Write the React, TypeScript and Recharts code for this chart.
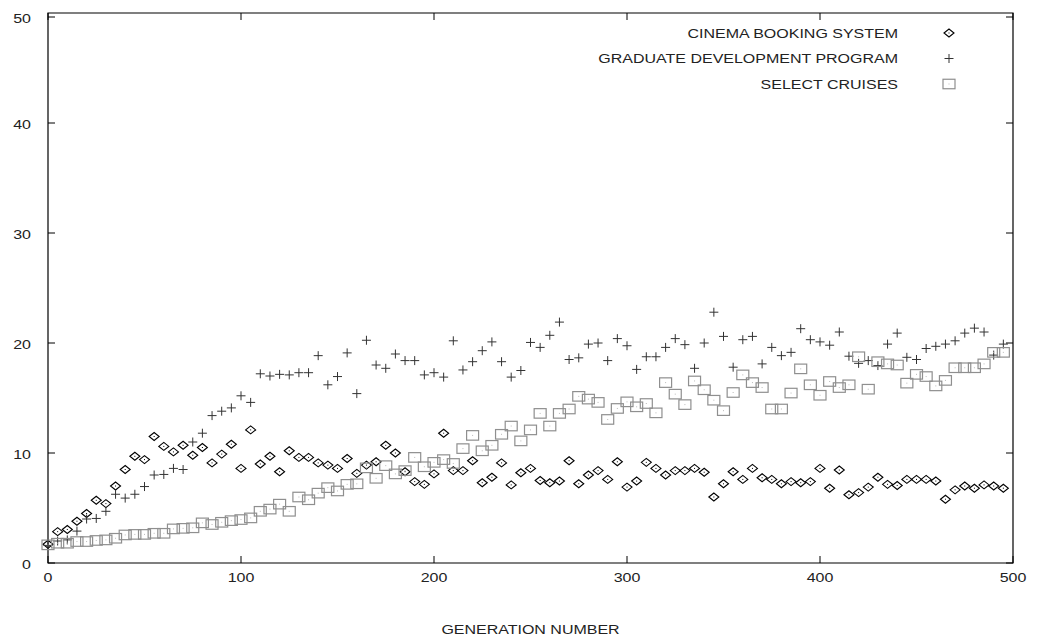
import { ScatterChart, Scatter, XAxis, YAxis, ReferenceArea, Legend } from 'recharts';

// generation numbers, every 5th generation
const generations = Array.from({ length: 100 }, (_, i) => i * 5);

const cinema = [
  1.7, 2.85, 3.05, 3.8, 4.5, 5.7, 5.4, 7.0, 8.5, 9.7,
  9.4, 11.5, 10.6, 10.1, 10.7, 9.8, 10.5, 9.1, 9.9, 10.8,
  8.6, 12.1, 9.0, 9.7, 8.3, 10.2, 9.6, 9.6, 9.1, 8.9,
  8.6, 9.5, 8.15, 8.9, 9.2, 10.7, 10.0, 8.3, 7.4, 7.15,
  8.1, 11.8, 8.4, 8.4, 9.3, 7.3, 7.8, 9.1, 7.1, 8.2,
  8.6, 7.5, 7.3, 7.45, 9.3, 7.2, 8.0, 8.4, 7.6, 9.2,
  6.9, 7.45, 9.15, 8.6, 8.0, 8.4, 8.4, 8.6, 8.25, 6.0,
  7.2, 8.3, 7.6, 8.6, 7.75, 7.6, 7.2, 7.4, 7.3, 7.4,
  8.6, 6.8, 8.45, 6.2, 6.4, 6.9, 7.8, 7.15, 7.05, 7.6,
  7.6, 7.6, 7.45, 5.8, 6.65, 7.0, 6.8, 7.1, 7.0, 6.8,
];

const graduate = [
  1.6, 2.0, 2.1, 2.9, 4.0, 4.05, 4.7, 6.25, 5.9, 6.25,
  6.95, 8.0, 8.05, 8.6, 8.5, 11.0, 11.8, 13.4, 13.8, 14.1,
  15.2, 14.6, 17.2, 17.0, 17.15, 17.1, 17.3, 17.3, 18.85, 16.2,
  16.95, 19.1, 15.4, 20.25, 18.0, 17.7, 19.0, 18.4, 18.4, 17.1,
  17.3, 16.9, 20.2, 17.55, 18.3, 19.3, 20.1, 18.3, 16.9, 17.5,
  20.05, 19.6, 20.7, 21.9, 18.5, 18.65, 19.9, 20.0, 18.4, 20.4,
  19.75, 17.6, 18.75, 18.75, 19.6, 20.4, 19.85, 17.7, 20.0, 22.8,
  20.6, 17.8, 20.3, 20.6, 18.1, 19.6, 18.85, 19.15, 21.3, 20.3,
  20.1, 19.8, 21.0, 18.8, 18.15, 18.4, 17.95, 19.9, 20.9, 18.7,
  18.5, 19.5, 19.7, 19.9, 20.2, 20.9, 21.35, 21.0, 18.9, 19.9,
];

const cruises = [
  1.65, 1.8, 1.8, 1.95, 1.95, 2.05, 2.1, 2.25, 2.55, 2.6,
  2.6, 2.7, 2.7, 3.1, 3.15, 3.2, 3.65, 3.5, 3.7, 3.85,
  3.95, 4.1, 4.7, 4.9, 5.35, 4.7, 6.0, 5.75, 6.35, 6.85,
  6.55, 7.15, 7.2, 8.65, 7.7, 8.85, 8.1, 8.4, 9.6, 8.75,
  9.15, 9.4, 9.05, 10.4, 11.6, 10.2, 10.7, 11.7, 12.45, 11.1,
  12.1, 13.6, 12.45, 13.6, 14.0, 15.15, 14.9, 14.6, 13.05, 14.05,
  14.65, 14.2, 14.5, 13.65, 16.4, 15.35, 14.4, 16.55, 15.75, 14.8,
  13.85, 15.5, 17.1, 16.4, 15.95, 14.0, 14.0, 15.45, 17.65, 16.2,
  15.25, 16.5, 15.95, 16.2, 18.75, 15.8, 18.3, 18.1, 18.0, 16.35,
  17.15, 16.95, 16.1, 16.6, 17.75, 17.75, 17.75, 18.1, 19.15, 19.15,
];

const seriesNames = ['CINEMA BOOKING SYSTEM', 'GRADUATE DEVELOPMENT PROGRAM', 'SELECT CRUISES'];
const xTicks = [0, 100, 200, 300, 400, 500];
const yTicks = [0, 10, 20, 30, 40, 50];

const FONT = '"Liberation Sans", Arial, Helvetica, sans-serif';
const PLOT_W = 965;
const PLOT_H = 550;
const TICK_LEN = 7;
const STRETCH = 1.28; // the original lettering is wider than it is tall

// text that is stretched sideways around its anchor point
const WideText = ({ x, y, anchor, children }: any) => (
  <text
    transform={`translate(${x},${y}) scale(${STRETCH},1)`}
    x={0}
    y={0}
    textAnchor={anchor}
    fontFamily={FONT}
    fontSize={12.5}
    fill="#222"
  >
    {children}
  </text>
);

const Diamond = ({ cx, cy }: any) => (
  <g>
    <polygon
      points={`${cx - 5},${cy} ${cx},${cy - 4} ${cx + 5},${cy} ${cx},${cy + 4}`}
      fill="none"
      stroke="#000"
      strokeWidth={1.1}
    />
    <rect x={cx - 0.5} y={cy - 0.5} width={1} height={1} fill="#000" />
  </g>
);

const Plus = ({ cx, cy }: any) => (
  <g stroke="#333" strokeWidth={1}>
    <line x1={cx - 4.5} x2={cx + 4.5} y1={cy} y2={cy} />
    <line x1={cx} x2={cx} y1={cy - 4.5} y2={cy + 4.5} />
  </g>
);

const Box = ({ cx, cy }: any) => (
  <g>
    <rect x={cx - 6} y={cy - 4.75} width={12} height={9.5} fill="none" stroke="#8f8f8f" strokeWidth={1.2} />
    <rect x={cx - 0.5} y={cy - 0.5} width={1} height={1} fill="#bbb" />
  </g>
);

// y ticks: label on the left, gnuplot style inward ticks on both sides
const YTick = ({ x, y, payload }: any) => {
  const ax = x + 17;
  return (
    <g>
      <WideText x={x} y={y + 5.5} anchor="end">{payload.value}</WideText>
      <line x1={ax} x2={ax + TICK_LEN} y1={y} y2={y} stroke="#000" />
      <line x1={ax + PLOT_W - TICK_LEN} x2={ax + PLOT_W} y1={y} y2={y} stroke="#000" />
    </g>
  );
};

const XTick = ({ x, y, payload }: any) => (
  <g>
    <WideText x={x} y={y + 18.5} anchor="middle">{payload.value}</WideText>
    <line x1={x} x2={x} y1={y} y2={y - TICK_LEN} stroke="#000" />
    <line x1={x} x2={x} y1={y - PLOT_H} y2={y - PLOT_H + TICK_LEN} stroke="#000" />
  </g>
);

const LegendBox = () => {
  const markers = [Diamond, Plus, Box];
  return (
    <svg width={1033} height={100} style={{ display: 'block' }}>
      {seriesNames.map((name, i) => {
        const cy = 25 + i * 25.5;
        const M = markers[i];
        return (
          <g key={name}>
            <WideText x={890} y={cy + 4.5} anchor="end">{name}</WideText>
            <M cx={941} cy={cy} />
          </g>
        );
      })}
    </svg>
  );
};

export default function App() {
  const cinemaData = generations.map((g, i) => ({ x: g, y: cinema[i] }));
  const graduateData = generations.map((g, i) => ({ x: g, y: graduate[i] }));
  const cruisesData = generations.map((g, i) => ({ x: g, y: cruises[i] }));

  return (
    <div style={{ width: 1033, height: 630, fontFamily: FONT, background: '#fff' }}>
      <ScatterChart width={1033} height={630} margin={{ top: 5, right: 28, left: 0, bottom: 0 }}>
        <XAxis
          type="number"
          dataKey="x"
          domain={[0, 500]}
          ticks={xTicks}
          height={75}
          axisLine={false}
          tickLine={false}
          tickSize={0}
          tickMargin={0}
          tick={<XTick />}
          label={{
            value: 'GENERATION NUMBER',
            content: ({ viewBox }: any) => (
              <WideText x={viewBox.x + viewBox.width / 2} y={viewBox.y + viewBox.height - 4} anchor="middle">
                GENERATION NUMBER
              </WideText>
            ),
          }}
        />
        <YAxis
          type="number"
          dataKey="y"
          domain={[0, 50]}
          ticks={yTicks}
          width={40}
          axisLine={false}
          tickLine={false}
          tickSize={0}
          tickMargin={17}
          tick={<YTick />}
        />
        <ReferenceArea x1={0} x2={500} y1={0} y2={50} fill="none" stroke="#000" strokeWidth={1.2} />
        <Scatter name={seriesNames[0]} data={cinemaData} shape={(p: any) => <Diamond {...p} />} isAnimationActive={false} />
        <Scatter name={seriesNames[1]} data={graduateData} shape={(p: any) => <Plus {...p} />} isAnimationActive={false} />
        <Scatter name={seriesNames[2]} data={cruisesData} shape={(p: any) => <Box {...p} />} isAnimationActive={false} />
        <Legend
          layout="horizontal"
          verticalAlign="middle"
          wrapperStyle={{ top: 0, left: 0, width: 1033, height: 100 }}
          content={() => <LegendBox />}
        />
      </ScatterChart>
    </div>
  );
}
